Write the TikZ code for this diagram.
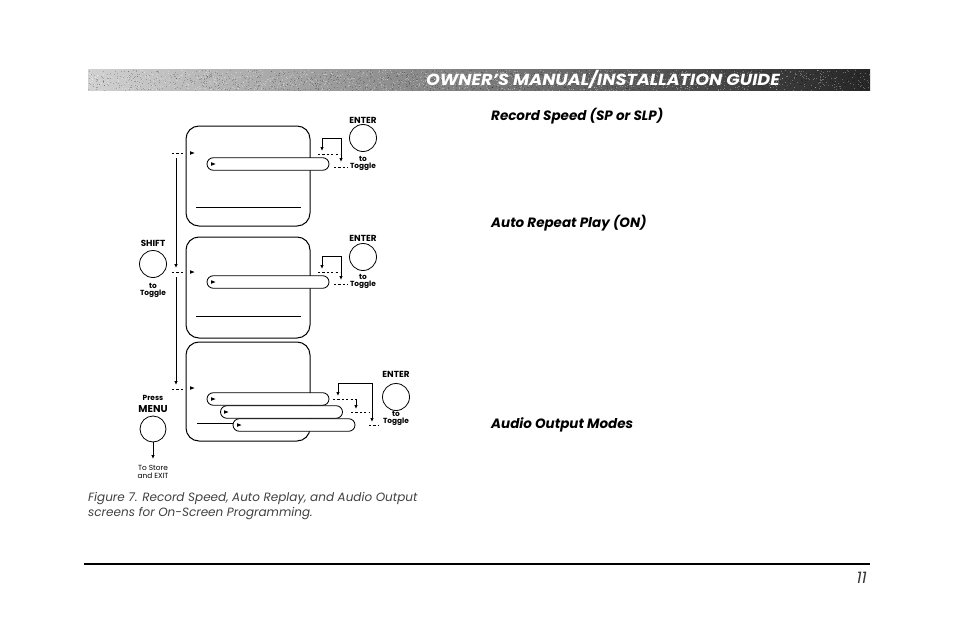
\documentclass[tikz,border=0pt]{standalone}
\usepackage{fontspec}
\setmainfont{Poppins}
\usetikzlibrary{arrows.meta,shapes.misc}
\begin{document}
\begin{tikzpicture}[x=1pt,y=-1pt,
  screen/.style={draw,line width=1pt,rounded corners=13pt,minimum width=124pt,minimum height=100pt,inner sep=0},
  pill/.style={draw,fill=white,line width=0.8pt,rounded rectangle,minimum width=122pt,minimum height=12.5pt,inner sep=0},
  btn/.style={draw,circle,line width=0.8pt,minimum size=27pt,inner sep=0},
  lbl/.style={font=\bfseries\fontsize{8.8}{9}\selectfont,inner sep=0},
  sm/.style={font=\bfseries\fontsize{7.4}{8}\selectfont,inner sep=0},
  dsh/.style={dash pattern=on 2.2pt off 2.2pt,line width=0.8pt},
  arr/.style={line width=0.8pt,-{Latex[length=4pt,width=3.5pt]}},
  darr/.style={line width=0.8pt,{Latex[length=4pt,width=3.5pt]}-{Latex[length=4pt,width=3.5pt]}},
  ln/.style={line width=0.8pt},
  tri/.pic={\fill (-2,-1.8)--(2.5,0)--(-2,1.8)--cycle;},
  head/.style={font=\bfseries\itshape\fontsize{13.5}{15}\selectfont,inner sep=0,anchor=base west}
]
\useasboundingbox (0,0) rectangle (954,618);
% header bar
\shade[left color=black!18,middle color=black!45,right color=black!85] (88,70) rectangle (870,91);
\pgfmathsetseed{7}
\foreach \i in {1,...,2600}{
  \pgfmathsetmacro\xx{88+781*rnd}
  \pgfmathsetmacro\yy{70+20*rnd}
  \pgfmathsetmacro\cc{rnd>0.5 ? 1 : 0}
  \ifdim\cc pt>0.5pt
    \fill[white,opacity=0.3] (\xx,\yy) rectangle ++(1,1);
  \else
    \fill[black,opacity=0.22] (\xx,\yy) rectangle ++(1,1);
  \fi
}
\node[text=white,font=\bfseries\itshape\fontsize{16}{18}\selectfont,inner sep=0,anchor=base east] (title) at (780,86) {\scalebox{1.1}[1]{OWNER’S MANUAL/INSTALLATION GUIDE}};

% screens
\node[screen] (s1) at (248,176) {};
\node[screen,minimum height=101pt] (s2) at (248,287.5) {};
\node[screen,minimum height=99pt] (s3) at (248,391.5) {};

% pills
\node[pill] (p1) at (268,164) {};
\node[pill] (p2) at (268,282) {};
\node[pill] (p3a) at (268,399) {};
\node[pill] (p3b) at (281.5,412) {};
\node[pill] (p3c) at (294,425) {};

% triangles
\foreach \x/\y in {192/153,192/272,192/388,213/164,213/282,213/399,226/412,239/425}
  \pic at (\x,\y) {tri};

% bottom lines
\coordinate (b1a) at (196,207); \coordinate (b1b) at (301,207);
\coordinate (b2a) at (196,316); \coordinate (b2b) at (301,316);
\coordinate (b3a) at (197,423);
\draw[ln] (b1a) -- (b1b);
\draw[ln] (b2a) -- (b2b);
\draw[ln] (b3a) -- (b3a -| p3c.west);

% left dashes and arrows
\coordinate (l1a) at (172,153); \coordinate (l1b) at (184,153);
\coordinate (l2a) at (172,272); \coordinate (l2b) at (184,272);
\coordinate (l3a) at (172,389); \coordinate (l3b) at (184,389);
\draw[dsh] (l1a) -- (l1b);
\draw[dsh] (l2a) -- (l2b);
\draw[dsh] (l3a) -- (l3b);
\coordinate (v1a) at (176,158); \coordinate (v1b) at (176,268);
\coordinate (v2a) at (176,277); \coordinate (v2b) at (176,385);
\draw[arr] (v1a) -- (v1b);
\draw[arr] (v2a) -- (v2b);

% right loop screen 1
\coordinate (c1a) at (322,151); \coordinate (c1b) at (341,138); \coordinate (c1c) at (341,162);
\draw[darr] (c1a) |- (c1b) -- (c1c);
\coordinate (d1a) at (318,154); \coordinate (d1b) at (340,154);
\coordinate (d1c) at (334,167); \coordinate (d1d) at (348,167);
\draw[dsh] (d1a) -- (d1b);
\draw[dsh] (d1c) -- (d1d);
% right loop screen 2
\coordinate (c2a) at (322,269); \coordinate (c2b) at (341,256); \coordinate (c2c) at (341,280);
\draw[darr] (c2a) |- (c2b) -- (c2c);
\coordinate (d2a) at (318,272); \coordinate (d2b) at (340,272);
\coordinate (d2c) at (334,284); \coordinate (d2d) at (348,284);
\draw[dsh] (d2a) -- (d2b);
\draw[dsh] (d2c) -- (d2d);
% right loop screen 3
\coordinate (c3a) at (338,396); \coordinate (c3b) at (372,383); \coordinate (c3c) at (372,422);
\draw[darr] (c3a) |- (c3b) -- (c3c);
\coordinate (m3a) at (356,399); \coordinate (m3b) at (356,409);
\draw[arr] (m3a) -- (m3b);
\coordinate (d3a) at (333,399); \coordinate (d3b) at (357,399);
\coordinate (d3c) at (351,412); \coordinate (d3d) at (370,412);
\coordinate (d3e) at (369,425); \coordinate (d3f) at (379,425);
\draw[dsh] (d3a) -- (d3b);
\draw[dsh] (d3c) -- (d3d);
\draw[dsh] (d3e) -- (d3f);

% ENTER buttons
\node[btn] (e1) at (363,138) {};
\node[lbl] (e1l) at (363,120) {ENTER};
\node[sm] (e1t) at (363,159) {to};
\node[sm] (e1g) at (363,166.5) {Toggle};
\node[btn] (e2) at (363,257) {};
\node[lbl] (e2l) at (363,238) {ENTER};
\node[sm] (e2t) at (363,277) {to};
\node[sm] (e2g) at (363,284.5) {Toggle};
\node[btn] (e3) at (396,397) {};
\node[lbl] (e3l) at (396,374) {ENTER};
\node[sm] (e3t) at (396,414) {to};
\node[sm] (e3g) at (396,421.5) {Toggle};

% SHIFT
\node[lbl] (shl) at (153,243) {SHIFT};
\node[btn] (sh) at (153,264) {};
\node[sm] (sht) at (153,286) {to};
\node[sm] (shg) at (153,293.5) {Toggle};

% MENU
\node[sm] (mp) at (153,398) {Press};
\node[lbl,font=\bfseries\fontsize{10}{10}\selectfont] (ml) at (153,409) {MENU};
\node[btn,minimum size=26pt] (m) at (153,429) {};
\coordinate (mx) at (153,459);
\draw[arr] (m.south) -- (mx);
\node[sm,font=\fontsize{7.4}{8}\selectfont] (ms) at (153,468) {To Store};
\node[sm,font=\fontsize{7.4}{8}\selectfont] (me) at (153,475.5) {and EXIT};

% caption
\node[font=\itshape\fontsize{12}{15}\selectfont,text=black!75,inner sep=0,anchor=base west] (cap1) at (88,501) {Figure 7. Record Speed, Auto Replay, and Audio Output};
\node[font=\itshape\fontsize{12}{15}\selectfont,text=black!75,inner sep=0,anchor=base west] (cap2) at (88,516) {screens for On-Screen Programming.};

% right headings
\node[head] (h1) at (491,121) {Record Speed (SP or SLP)};
\node[head] (h2) at (491,227) {Auto Repeat Play (ON)};
\node[head] (h3) at (491,428) {Audio Output Modes};

% bottom rule and page number
\coordinate (r1) at (84,564); \coordinate (r2) at (870,564);
\draw[line width=1.2pt] (r1) -- (r2);
\node[font=\itshape\fontsize{16}{18}\selectfont,text=black!80,inner sep=0,anchor=base east] (pg) at (867,583) {11};
\end{tikzpicture}
\end{document}
